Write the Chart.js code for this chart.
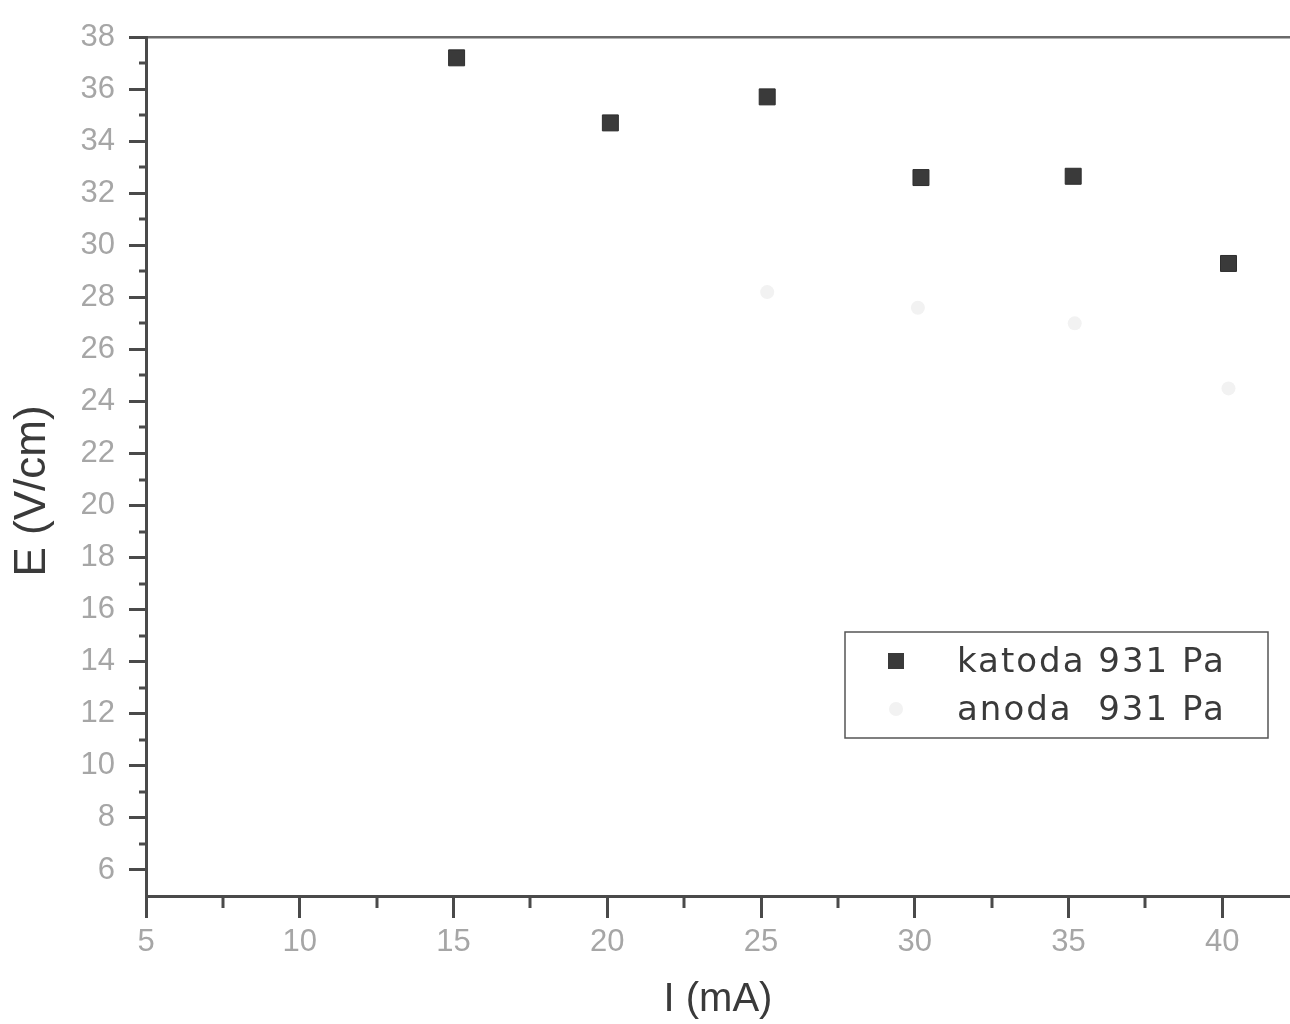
<!DOCTYPE html>
<html>
<head>
<meta charset="utf-8">
<script src="https://cdn.jsdelivr.net/npm/chart.js@4/dist/chart.umd.min.js"></script>
<style>
html, body { margin: 0; padding: 0; background: #fff; overflow: hidden; }
canvas { display: block; }
</style>
</head>
<body>
<canvas id="eChart" width="1290" height="1024"></canvas>
<script>
"use strict";
var katodaI = [15.1, 20.1, 25.2, 30.2, 35.15, 40.2];
var katodaE = [37.2, 34.7, 35.7, 32.6, 32.65, 29.3];
var anodaI = [25.2, 30.1, 35.2, 40.2];
var anodaE = [28.2, 27.6, 27.0, 24.5];

// axis ticks
var xTicks = [5, 10, 15, 20, 25, 30, 35, 40];
var xMinor = [7.5, 12.5, 17.5, 22.5, 27.5, 32.5, 37.5];
var yTicks = [6, 8, 10, 12, 14, 16, 18, 20, 22, 24, 26, 28, 30, 32, 34, 36, 38];
var yMinor = [7, 9, 11, 13, 15, 17, 19, 21, 23, 25, 27, 29, 31, 33, 35, 37];

var axisColor = '#4a4a4a';
var tickFont = { family: 'Liberation Sans', size: 31 };

function points(xs, ys) {
	return xs.map(function (v, i) { return { x: v, y: ys[i] }; });
}

// minor ticks + legend box inside the plot
var extras = {
	id: 'extras',
	afterDraw: function (chart) {
		var ctx = chart.ctx;
		var area = chart.chartArea;
		var xs = chart.scales.x;
		var ys = chart.scales.y;
		ctx.save();
		ctx.strokeStyle = axisColor;
		ctx.lineWidth = 3;
		yMinor.forEach(function (v) {
			var py = Math.round(ys.getPixelForValue(v));
			ctx.beginPath();
			ctx.moveTo(area.left - 7, py);
			ctx.lineTo(area.left, py);
			ctx.stroke();
		});
		xMinor.forEach(function (v) {
			var px = Math.round(xs.getPixelForValue(v));
			ctx.beginPath();
			ctx.moveTo(px, area.bottom);
			ctx.lineTo(px, area.bottom + 12);
			ctx.stroke();
		});

		// legend
		var bx = area.right - 445, by = area.bottom - 264, bw = 423, bh = 106;
		ctx.lineWidth = 1.5;
		ctx.strokeStyle = '#555';
		ctx.strokeRect(bx, by, bw, bh);
		ctx.font = '34px "DejaVu Sans"';
		ctx.letterSpacing = '2px';
		ctx.textBaseline = 'middle';
		ctx.textAlign = 'left';
		chart.data.datasets.forEach(function (ds, i) {
			var cy = by + 29 + i * 48;
			var cx = bx + 51;
			ctx.fillStyle = ds.backgroundColor;
			if (ds.pointStyle === 'rect') {
				ctx.fillRect(cx - 8, cy - 8, 16, 16);
			} else {
				ctx.beginPath();
				ctx.arc(cx, cy, 7, 0, Math.PI * 2);
				ctx.fill();
			}
			ctx.fillStyle = '#3a3a3a';
			ctx.fillText(ds.label, bx + 112, cy + 2);
		});
		ctx.restore();
	}
};

var ctx = document.getElementById('eChart');
var data = {
	datasets: [{
		label: 'katoda 931 Pa',
		data: points(katodaI, katodaE),
		pointStyle: 'rect',
		pointRadius: 11.3,
		backgroundColor: '#3a3a3a',
		borderColor: '#2e2e2e',
		borderWidth: 1,
		showLine: false
	}, {
		label: 'anoda  931 Pa',
		data: points(anodaI, anodaE),
		pointStyle: 'circle',
		pointRadius: 7,
		backgroundColor: '#f2f2f2',
		borderColor: '#f2f2f2',
		borderWidth: 0,
		showLine: false
	}]
};

var config = {
	type: 'scatter',
	data: data,
	plugins: [extras],
	options: {
		responsive: false,
		animation: false,
		layout: { padding: 0, autoPadding: false },
		plugins: {
			legend: { display: false },
			tooltip: { enabled: false }
		},
		scales: {
			x: {
				type: 'linear',
				position: 'bottom',
				min: 5,
				max: 42.2,
				afterFit: function (s) { s.height = 128; },
				afterBuildTicks: function (s) {
					s.ticks = xTicks.map(function (v) { return { value: v }; });
				},
				grid: {
					drawOnChartArea: false,
					tickLength: 22,
					tickWidth: 3,
					tickColor: axisColor
				},
				border: { display: true, color: axisColor, width: 3 },
				ticks: {
					color: '#a6a6a6',
					font: tickFont,
					padding: 6,
					maxRotation: 0,
					autoSkip: false
				},
				title: {
					display: true,
					text: 'I (mA)',
					color: '#3a3a3a',
					font: { family: 'Liberation Sans', size: 40 },
					padding: 0
				}
			},
			x2: {
				type: 'linear',
				position: 'top',
				min: 5,
				max: 42.2,
				afterFit: function (s) { s.height = 37; },
				grid: { drawOnChartArea: false, drawTicks: false },
				border: { display: true, color: '#6a6a6a', width: 2.5 },
				ticks: { display: false }
			},
			y: {
				type: 'linear',
				position: 'left',
				min: 5,
				max: 38,
				afterFit: function (s) { s.width = 146; },
				afterBuildTicks: function (s) {
					s.ticks = yTicks.map(function (v) { return { value: v }; });
				},
				grid: {
					drawOnChartArea: false,
					tickLength: 17,
					tickWidth: 3,
					tickColor: axisColor
				},
				border: { display: true, color: axisColor, width: 3 },
				ticks: {
					color: '#a6a6a6',
					font: tickFont,
					padding: 14,
					autoSkip: false
				},
				title: {
					display: true,
					text: 'E (V/cm)    ',
					color: '#3a3a3a',
					font: { family: 'Liberation Sans', size: 44 },
					padding: { top: 6, bottom: 0 }
				}
			}
		}
	}
};
var eChart = new Chart(ctx, config);
</script>
</body>
</html>
